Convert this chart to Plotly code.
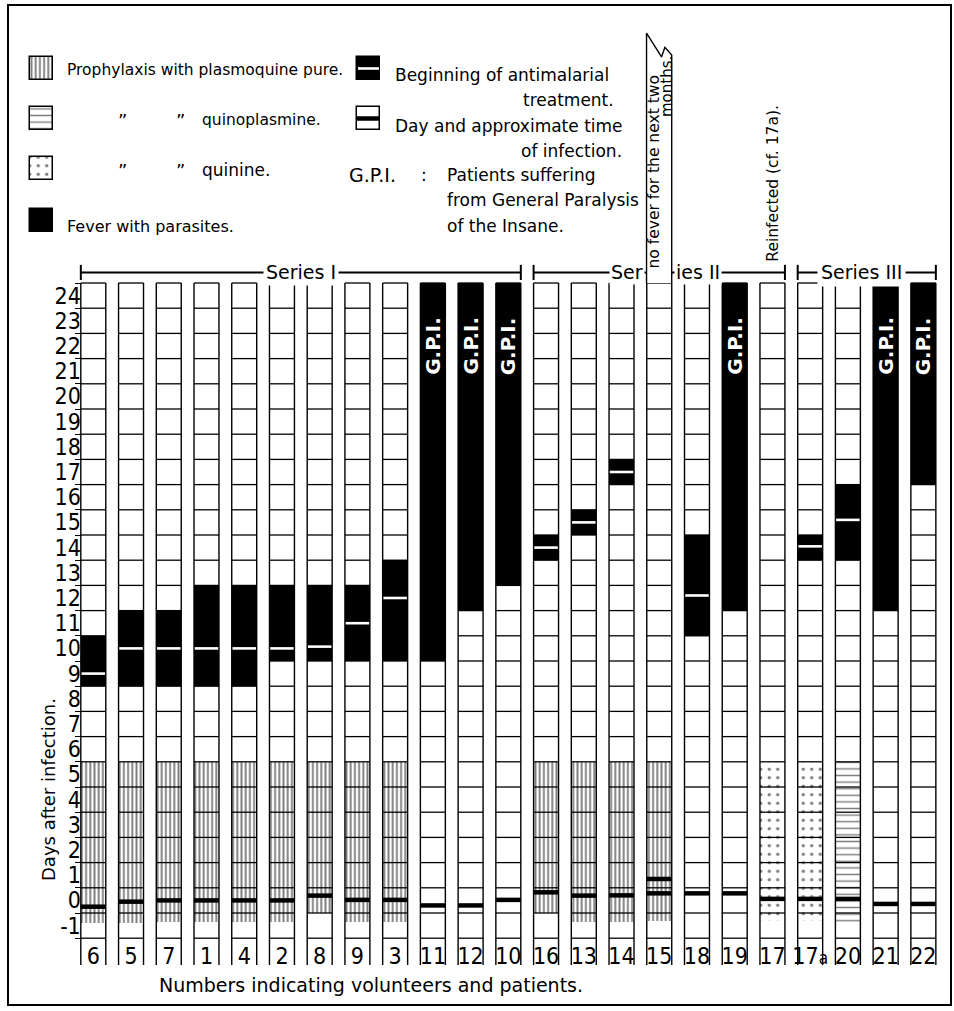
import plotly.graph_objects as go

# ---------------- data ----------------
patients = ["6", "5", "7", "1", "4", "2", "8", "9", "3", "11", "12", "10",
            "16", "13", "14", "15", "18", "19", "17", "17a", "20", "21", "22"]
series_labels = ["Series I", "Series II", "Series III"]
series_first = ["6", "16", "17a"]
series_last = ["10", "17", "22"]
days = list(range(-1, 25))

fever_first_day = [9, 9, 9, 9, 9, 10, 10, 10, 10, 10, 12, 13,
                   14, 15, 17, None, 11, 12, None, 14, 14, 12, 17]
fever_last_day = [10, 11, 11, 12, 12, 12, 12, 12, 13, 24, 24, 24,
                  14, 15, 17, None, 14, 24, None, 14, 16, 24, 24]
treatment_day = [9.0, 10.0, 10.0, 10.0, 10.0, 10.0, 10.07, 11.0, 12.0, None, None, None,
                 14.0, 15.0, 17.0, None, 12.1, None, None, 14.05, 15.1, None, None]
infection_patient = ["6", "5", "7", "1", "4", "2", "8", "9", "3", "11", "12", "10",
                     "16", "13", "14", "15", "15", "18", "19", "17", "17a", "20", "21", "22"]
infection_day = [-0.25, -0.05, 0.0, 0.0, 0.0, 0.0, 0.19, 0.02, 0.02, -0.2, -0.2, 0.02,
                 0.32, 0.19, 0.2, 0.28, 0.85, 0.28, 0.28, 0.06, 0.06, 0.06, -0.14, -0.14]
prophylaxis_drug = (["plasmoquine pure"] * 9 + [None] * 3 + ["plasmoquine pure"] * 4
                    + [None, None, "quinine", "quinine", "quinoplasmine", None, None])
prophylaxis_from = [-0.91, -0.88, -0.85, -0.85, -0.85, -0.85, -0.5, -0.85, -0.85, None, None, None,
                    -0.5, -0.84, -0.84, -0.8, None, None, -0.82, -0.82, -0.84, None, None]
prophylaxis_last_day = 5
gpi_patients = ["11", "12", "10", "19", "21", "22"]
no_fever_patient = "15"
reinfected_patient = "17"

# ---------------- style / geometry ----------------
W, H = 954, 1011
HALF = 0.331
LABEL_BOTTOM = -2.56
BRACKET_Y = 24.92
BRACKET_TICK = 0.3
X_RANGE = [-2.473, 22.812]
Y_RANGE = [-4.389, 35.730]
HAND = "DejaVu Sans"
NUM = "Liberation Sans Narrow, DejaVu Sans Condensed, DejaVu Sans"
TAB_OUTLINE = [(-0.337, 24.5), (-0.337, 34.42), (0.06, 33.47), (0.15, 33.85),
               (0.33, 33.55), (0.33, 24.5)]
PATTERNS = {
    "plasmoquine pure": dict(shape="|", size=4.2, solidity=0.45),
    "quinoplasmine": dict(shape="-", size=6.6, solidity=0.22),
    "quinine": dict(shape=".", size=8.5, solidity=0.13),
}

idx = {p: i for i, p in enumerate(patients)}
xs = list(range(len(patients)))

fig = go.Figure()

# prophylaxis hatching
for drug, pat in PATTERNS.items():
    sel = [i for i in xs if prophylaxis_drug[i] == drug]
    fig.add_trace(go.Bar(
        x=sel, base=[prophylaxis_from[i] for i in sel],
        y=[prophylaxis_last_day + 0.5 - prophylaxis_from[i] for i in sel],
        width=2 * HALF, marker=dict(color="white", line=dict(width=0),
                                    pattern=dict(fgcolor="black", bgcolor="white", **pat)),
        showlegend=False, hoverinfo="skip"))

# fever blocks
fsel = [i for i in xs if fever_first_day[i] is not None]
fig.add_trace(go.Bar(
    x=fsel, base=[fever_first_day[i] - 0.5 for i in fsel],
    y=[fever_last_day[i] - fever_first_day[i] + 1 for i in fsel],
    width=2 * HALF, marker=dict(color="black", line=dict(width=0)),
    showlegend=False, hoverinfo="skip"))

# day grid lines inside each column (hidden under fever)
gx, gy = [], []
for i in xs:
    f0, f1 = fever_first_day[i], fever_last_day[i]
    for d in days + [days[-1] + 1]:
        b = d - 0.5
        if f0 is not None and f0 - 0.5 < b < f1 + 0.5:
            continue
        gx += [i - HALF, i + HALF, None]
        gy += [b, b, None]
fig.add_trace(go.Scatter(x=gx, y=gy, mode="lines", line=dict(color="black", width=1.3),
                         showlegend=False, hoverinfo="skip"))

# column edges (down into label boxes)
ex, ey = [], []
for i in xs:
    for e in (i - HALF, i + HALF):
        ex += [e, e, None]
        ey += [LABEL_BOTTOM, days[-1] + 0.5, None]
fig.add_trace(go.Scatter(x=ex, y=ey, mode="lines", line=dict(color="black", width=1.4),
                         showlegend=False, hoverinfo="skip"))

# beginning of treatment (white lines)
tx, ty = [], []
for i in xs:
    if treatment_day[i] is not None:
        tx += [i - HALF + 0.02, i + HALF - 0.02, None]
        ty += [treatment_day[i], treatment_day[i], None]
fig.add_trace(go.Scatter(x=tx, y=ty, mode="lines", line=dict(color="white", width=2.6),
                         showlegend=False, hoverinfo="skip"))

# time of infection (thick black lines)
ix, iy = [], []
for p, d in zip(infection_patient, infection_day):
    i = idx[p]
    ix += [i - HALF, i + HALF, None]
    iy += [d, d, None]
fig.add_trace(go.Scatter(x=ix, y=iy, mode="lines", line=dict(color="black", width=4.5),
                         showlegend=False, hoverinfo="skip"))

# series brackets
bx, by = [], []
for a, b in zip(series_first, series_last):
    l, r = idx[a] - HALF, idx[b] + HALF
    bx += [l, r, None, l, l, None, r, r, None]
    by += [BRACKET_Y, BRACKET_Y, None, BRACKET_Y - BRACKET_TICK, BRACKET_Y + BRACKET_TICK, None,
           BRACKET_Y - BRACKET_TICK, BRACKET_Y + BRACKET_TICK, None]
fig.add_trace(go.Scatter(x=bx, y=by, mode="lines", line=dict(color="black", width=2),
                         showlegend=False, hoverinfo="skip"))

# tall tab above patient 15
k = idx[no_fever_patient]
fig.add_trace(go.Scatter(x=[k + dx for dx, _ in TAB_OUTLINE], y=[yy for _, yy in TAB_OUTLINE],
                         mode="lines", fill="toself", fillcolor="white",
                         line=dict(color="black", width=1.4), showlegend=False, hoverinfo="skip"))

# ---------------- legend (pixel overlay axes) ----------------
def sw_bar(x0, y0, color, pat=None):
    m = dict(color=color, line=dict(color="black", width=1.5))
    if pat:
        m["pattern"] = dict(fgcolor="black", bgcolor="white", **pat)
    fig.add_trace(go.Bar(x=[x0 + 11.5], base=[y0], y=[23], width=23, marker=m,
                         xaxis="x2", yaxis="y2", showlegend=False, hoverinfo="skip"))

sw_bar(30, 57, "white", PATTERNS["plasmoquine pure"])
sw_bar(30, 107, "white", PATTERNS["quinoplasmine"])
sw_bar(30, 157, "white", PATTERNS["quinine"])
sw_bar(30, 209, "black")
sw_bar(357, 57, "black")
sw_bar(357, 107, "white")
fig.add_trace(go.Scatter(x=[358, 379], y=[68.5, 68.5], mode="lines", line=dict(color="white", width=2.6),
                         xaxis="x2", yaxis="y2", showlegend=False, hoverinfo="skip"))
fig.add_trace(go.Scatter(x=[357, 380], y=[118.5, 118.5], mode="lines", line=dict(color="black", width=4.5),
                         xaxis="x2", yaxis="y2", showlegend=False, hoverinfo="skip"))

ann = []
def txt(x, y, s, size=17, xanchor="left", ref="px", color="black", **kw):
    d = dict(x=x, y=y, text=s, showarrow=False, xanchor=xanchor, yanchor="middle",
             font=dict(family=HAND, size=size, color=color))
    if ref == "px":
        d.update(xref="x2", yref="y2")
    else:
        d.update(xref="x", yref="y")
    d.update(kw)
    ann.append(d)

txt(65, 70, "Prophylaxis with plasmoquine pure.", size=15.5)
txt(122, 120, "\u201d", size=18, xanchor="center")
txt(180, 120, "\u201d", size=18, xanchor="center")
txt(200, 120, "quinoplasmine.", size=15.5)
txt(122, 170, "\u201d", size=18, xanchor="center")
txt(180, 170, "\u201d", size=18, xanchor="center")
txt(200, 170, "quinine.")
txt(65, 226, "Fever with parasites.", size=16)
txt(393, 75, "Beginning of antimalarial")
txt(616, 100, "treatment.", xanchor="right")
txt(393, 126, "Day and approximate time")
txt(624, 151, "of infection.", xanchor="right")
txt(347, 175, "G.P.I.", size=19)
txt(424, 175, ":", size=17, xanchor="center")
txt(445, 175, "Patients suffering")
txt(445, 200, "from General Paralysis")
txt(445, 226, "of the Insane.")
txt(48, 790, "Days after infection.", size=18, xanchor="center", textangle=-90)
txt(371, 985, "Numbers indicating volunteers and patients.", size=19, xanchor="center")

# series labels on the brackets
l0, r0 = idx[series_first[0]] - HALF, idx[series_last[0]] + HALF
txt((l0 + r0) / 2, BRACKET_Y, series_labels[0], size=19, xanchor="center", ref="data",
    bgcolor="white", borderpad=2)
txt(k - HALF - 0.06, BRACKET_Y, series_labels[1][:3], size=19, xanchor="right", ref="data",
    bgcolor="white", borderpad=1)
txt(k + HALF + 0.06, BRACKET_Y, series_labels[1][3:], size=19, xanchor="left", ref="data",
    bgcolor="white", borderpad=1)
l2, r2 = idx[series_first[2]] - HALF, idx[series_last[2]] + HALF
txt((l2 + r2) / 2 - 0.15, BRACKET_Y, series_labels[2], size=19, xanchor="center", ref="data",
    bgcolor="white", borderpad=3)

# notes written vertically
txt(k - 0.13, 28.9, "no fever for the next two", size=15.5, xanchor="center", ref="data",
    textangle=-90)
txt(k + 0.22, 32.3, "months.", size=15, xanchor="center", ref="data", textangle=-90)
txt(idx[reinfected_patient] + 0.02, 28.45, "Reinfected (cf. 17a).", size=15.5, xanchor="center",
    ref="data", textangle=-90, bgcolor="white", borderpad=0)

# G.P.I. marks inside fever columns
for p in gpi_patients:
    txt(idx[p], 22.0, "<b>G.P.I.</b>", size=20, xanchor="center", ref="data",
        textangle=-90, color="white")

tick_text = [p if p != "17a" else "17<span style='font-size:17px'>a</span>" for p in patients]

fig.update_layout(
    width=W, height=H, margin=dict(l=0, r=0, t=0, b=0),
    paper_bgcolor="white", plot_bgcolor="white", barmode="overlay", bargap=0,
    showlegend=False, annotations=ann,
    xaxis=dict(range=X_RANGE, showgrid=False, zeroline=False, showline=False,
               tickvals=xs, ticktext=tick_text, ticks="", anchor="free", position=0.0705,
               tickfont=dict(family=NUM, size=23, color="black"), fixedrange=True),
    yaxis=dict(range=Y_RANGE, showgrid=False, zeroline=False, showline=False,
               tickvals=days, ticktext=[str(d) for d in days], ticks="",
               anchor="free", position=80.8 / W,
               tickfont=dict(family=NUM, size=23, color="black"),
               minor=dict(tickvals=[d - 0.5 for d in days] + [days[-1] + 0.5], ticks="outside",
                          ticklen=6, tickwidth=1.3, tickcolor="black"),
               fixedrange=True),
    xaxis2=dict(range=[0, W], overlaying="x", anchor="y2", visible=False, fixedrange=True),
    yaxis2=dict(range=[H, 0], overlaying="y", anchor="x2", visible=False, fixedrange=True),
    shapes=[dict(type="rect", xref="paper", yref="paper", x0=8 / W, x1=951 / W,
                 y0=1 - 1005 / H, y1=1 - 5 / H, line=dict(color="black", width=2),
                 layer="below")],
)

fig.write_html("out.html", config={"displayModeBar": False},
               post_script="document.body.style.margin='0';document.body.style.overflow='hidden';")
